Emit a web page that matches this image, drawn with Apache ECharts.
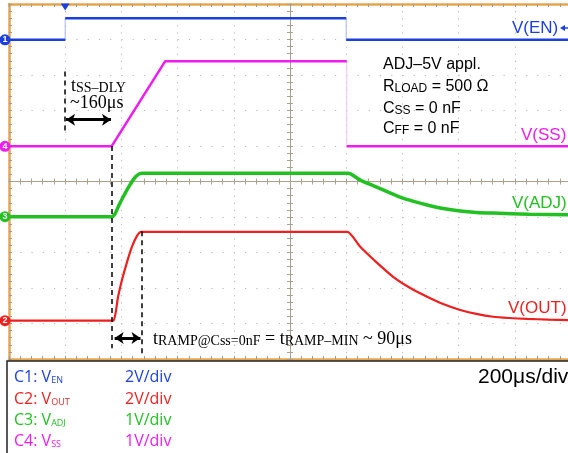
<!DOCTYPE html>
<html>
<head>
<meta charset="utf-8">
<script src="https://cdn.jsdelivr.net/npm/echarts@6/dist/echarts.min.js"></script>
<style>
  html, body { margin: 0; padding: 0; background: #fff; }
  #chart { width: 568px; height: 453px; }
</style>
</head>
<body>
<div id="chart"></div>
<script>
// time in µs from the EN rising edge (trigger), 200µs/div
const enTime = [-200, 0, 0, 1000, 1000, 1800];
const enVolt = [0, 0, 1.22, 1.22, 0, 0];

const ssTime = [-200, 165, 356, 1002, 1002, 1800];
const ssVolt = [0, 0, 2.40, 2.40, 0, 0];

const adjTime = [-200, 160, 166, 178, 190, 208, 226, 243, 257, 273, 285, 995, 1007, 1050, 1100, 1150, 1192, 1240, 1288, 1345, 1406, 1463, 1523, 1650, 1800];
const adjVolt = [0, 0, 0, 0.09, 0.30, 0.58, 0.84, 1.05, 1.17, 1.22, 1.22, 1.22, 1.22, 1.03, 0.86, 0.69, 0.55, 0.43, 0.33, 0.23, 0.16, 0.12, 0.10, 0.07, 0.05];

const outTime = [-200, 165, 172, 180, 188, 202, 220, 237, 255, 270, 282, 995, 1004, 1050, 1100, 1167, 1228, 1288, 1345, 1406, 1463, 1523, 1580, 1644, 1720, 1800];
const outVolt = [0, 0, 0, 0.49, 1.33, 2.29, 3.30, 4.14, 4.76, 5.0, 5.0, 5.0, 5.0, 4.16, 3.40, 2.47, 1.84, 1.35, 0.94, 0.60, 0.38, 0.22, 0.15, 0.10, 0.06, 0.03];

// scope channel settings (V/div and ground marker position in divisions)
const voltsPerDiv = { en: 2, out: 2, adj: 1, ss: 1 };
const offsetDiv = { en: 8.99, out: 1.08, adj: 4.01, ss: 5.99 };

const colors = { en: '#1c3fe0', out: '#ee1f1f', adj: '#22c022', ss: '#ee1cee' };
const faint = { en: '#a8b4f2', ss: '#f6bff6' };
const frameColor = '#e6a54c';
const centerColor = '#aaa28c';
const sans = 'Liberation Sans';
const serif = 'Liberation Serif';

const chart = echarts.init(document.getElementById('chart'));

function toDiv(ch, time, volt) {
  return time.map((t, i) => [t, offsetDiv[ch] + volt[i] / voltsPerDiv[ch]]);
}

// gap at vertical edges, so the fast edges can be drawn faint underneath
function breakEdges(pts) {
  const out = [];
  pts.forEach((p, i) => {
    if (i > 0 && p[0] === pts[i - 1][0]) out.push([p[0], '-']);
    out.push(p);
  });
  return out;
}

function chMarker(ch, no) {
  return {
    coord: [-200, offsetDiv[ch]],
    symbol: 'circle',
    symbolSize: 11,
    symbolOffset: [-4, 0],
    itemStyle: { color: colors[ch] },
    label: { show: true, formatter: String(no), color: '#fff', fontSize: 9, fontWeight: 'bold', fontFamily: sans }
  };
}

const dash = { color: '#000', width: 1.5, type: [5, 4] };
const arrow = { color: '#000', width: 3, type: 'solid' };

const enPts = toDiv('en', enTime, enVolt);
const ssPts = toDiv('ss', ssTime, ssVolt);

const series = [
  { type: 'line', data: enPts, showSymbol: false, silent: true, z: 2,
    lineStyle: { color: faint.en, width: 1 } },
  { name: 'V(EN)', type: 'line', data: breakEdges(enPts), showSymbol: false, z: 3,
    lineStyle: { color: colors.en, width: 2.5 },
    markPoint: {
      silent: true,
      data: [
        chMarker('en', 1),
        { coord: [0, 10], symbol: 'triangle', symbolRotate: 180, symbolSize: [9, 7], symbolOffset: [0, 3],
          itemStyle: { color: colors.en }, label: { show: false } }
      ]
    },
    markLine: {
      silent: true, symbol: ['none', 'none'], label: { show: false },
      data: [
        [{ coord: [0, 8.1], lineStyle: dash }, { coord: [0, 6.4] }],
        [{ coord: [166, 6.0], lineStyle: dash }, { coord: [166, 0.3] }],
        [{ coord: [272, 3.6], lineStyle: dash }, { coord: [272, 0.15] }],
        [{ coord: [3, 6.74], lineStyle: arrow, symbol: 'arrow', symbolSize: [9, 9] },
         { coord: [163, 6.74], symbol: 'arrow', symbolSize: [9, 9] }],
        [{ coord: [176, 0.59], lineStyle: arrow, symbol: 'arrow', symbolSize: [9, 9] },
         { coord: [268, 0.59], symbol: 'arrow', symbolSize: [9, 9] }]
      ]
    }
  },
  { type: 'line', data: ssPts, showSymbol: false, silent: true, z: 2,
    lineStyle: { color: faint.ss, width: 1 } },
  { name: 'V(SS)', type: 'line', data: breakEdges(ssPts), showSymbol: false, z: 3,
    lineStyle: { color: colors.ss, width: 2.5 },
    markPoint: { silent: true, data: [chMarker('ss', 4)] } },
  { name: 'V(ADJ)', type: 'line', data: toDiv('adj', adjTime, adjVolt), showSymbol: false, z: 3,
    smooth: 0.25,
    lineStyle: { color: colors.adj, width: 3.5 },
    markPoint: { silent: true, data: [chMarker('adj', 3)] } },
  { name: 'V(OUT)', type: 'line', data: toDiv('out', outTime, outVolt), showSymbol: false, z: 3,
    smooth: 0.25,
    lineStyle: { color: colors.out, width: 2.2 },
    markPoint: { silent: true, data: [chMarker('out', 2)] } }
];

function frameAxis(pos, split, dashType) {
  return {
    type: 'value', position: pos, min: pos === 'left' ? 0 : -200, max: pos === 'left' ? 10 : 1800,
    interval: pos === 'left' ? 1 : 200,
    axisLine: { show: true, onZero: false, lineStyle: { color: frameColor, width: 2.5 } },
    axisTick: { show: true, inside: true, length: 3, lineStyle: { color: '#9a9a9a' } },
    minorTick: { show: true, splitNumber: 5, length: 3, lineStyle: { color: '#9a9a9a' } },
    axisLabel: { show: false },
    splitLine: { show: split, lineStyle: { color: '#b8b8b8', width: 1, type: dashType } }
  };
}

function centerAxis(dim, inside) {
  const isY = dim === 'y';
  return {
    type: 'value', position: isY ? 'left' : 'bottom', offset: isY ? -281 : -177.5,
    min: isY ? 0 : -200, max: isY ? 10 : 1800, interval: isY ? 1 : 200,
    axisLine: { show: true, onZero: false, lineStyle: { color: centerColor, width: 1 } },
    axisTick: { show: true, inside: inside, length: 3, lineStyle: { color: centerColor } },
    minorTick: { show: true, splitNumber: 5, length: 3, lineStyle: { color: centerColor } },
    axisLabel: { show: false },
    splitLine: { show: false }
  };
}

function rich(x, y, text, styles) {
  return { type: 'text', x: x, y: y, z: 100, silent: true,
    style: { text: text, verticalAlign: 'middle', rich: styles } };
}
function plain(x, y, text, color, font) {
  return { type: 'text', x: x, y: y, z: 100, silent: true,
    style: { text: text, fill: color, font: font, verticalAlign: 'middle' } };
}

const condStyle = {
  m: { fill: '#000', font: '16px ' + sans, lineHeight: 20, verticalAlign: 'bottom' },
  s: { fill: '#000', font: '12px ' + sans, lineHeight: 12, verticalAlign: 'bottom' }
};
const serifStyle = {
  t: { fill: '#000', font: '18px ' + serif, lineHeight: 20, verticalAlign: 'bottom' },
  s: { fill: '#000', font: '14px ' + serif, lineHeight: 16, verticalAlign: 'bottom' }
};
function legendStyle(c) {
  return {
    m: { fill: c, font: '16px Open Sans', lineHeight: 20, verticalAlign: 'bottom' },
    s: { fill: c, font: '9px Open Sans', lineHeight: 15, verticalAlign: 'bottom' }
  };
}

const legendRows = [
  ['C1: V', 'EN', '2V/div', colors.en, 375],
  ['C2: V', 'OUT', '2V/div', colors.out, 397],
  ['C3: V', 'ADJ', '1V/div', colors.adj, 418],
  ['C4: V', 'SS', '1V/div', colors.ss, 439]
];

const graphic = [
  { type: 'rect', z: 1, silent: true, shape: { x: 7, y: 361, width: 580, height: 100 },
    style: { fill: '#fff', stroke: '#222', lineWidth: 1.5 } },
  plain(478, 377, '200μs/div', '#000', '21px ' + sans),
  plain(512, 28, 'V(EN)', colors.en, '17px ' + sans),
  { type: 'polygon', z: 100, silent: true, shape: { points: [[560, 28], [565, 25], [565, 31]] }, style: { fill: colors.en } },
  { type: 'line', z: 100, silent: true, shape: { x1: 564, y1: 28, x2: 570, y2: 28 }, style: { stroke: colors.en, lineWidth: 1.5 } },
  plain(521, 135, 'V(SS)', colors.ss, '17px ' + sans),
  plain(512, 203, 'V(ADJ)', colors.adj, '17px ' + sans),
  plain(508, 308, 'V(OUT)', colors.out, '17px ' + sans),
  rich(383, 62.4, '{m|ADJ–5V appl.}', condStyle),
  rich(383, 84.4, '{m|R}{s|LOAD}{m| = 500 Ω}', condStyle),
  rich(383, 106.4, '{m|C}{s|SS}{m| = 0 nF}', condStyle),
  rich(383, 126.4, '{m|C}{s|FF}{m| = 0 nF}', condStyle),
  rich(71, 85.7, '{t|t}{s|SS–DLY}', serifStyle),
  plain(70, 103.7, '~160μs', '#000', '18px ' + serif),
  rich(153, 338.7, '{t|t}{s|RAMP@Css=0nF}{t| = t}{s|RAMP–MIN}{t| ~ 90μs}', serifStyle)
];
legendRows.forEach(r => {
  graphic.push(rich(14, r[4], '{m|' + r[0] + '}{s|' + r[1] + '}', legendStyle(r[3])));
  graphic.push(rich(125, r[4], '{m|' + r[2] + '}', legendStyle(r[3])));
});

const option = {
  animation: false,
  backgroundColor: '#fff',
  grid: { left: 9, top: 4, width: 562, height: 355, outerBoundsMode: 'none' },
  xAxis: [
    frameAxis('bottom', true, [1.2, 5.9]),
    frameAxis('top', false),
    centerAxis('x', true),
    centerAxis('x', false)
  ],
  yAxis: [
    frameAxis('left', true, [1.2, 10.04]),
    centerAxis('y', true),
    centerAxis('y', false)
  ],
  series: series,
  graphic: graphic
};

chart.setOption(option);
</script>
</body>
</html>
